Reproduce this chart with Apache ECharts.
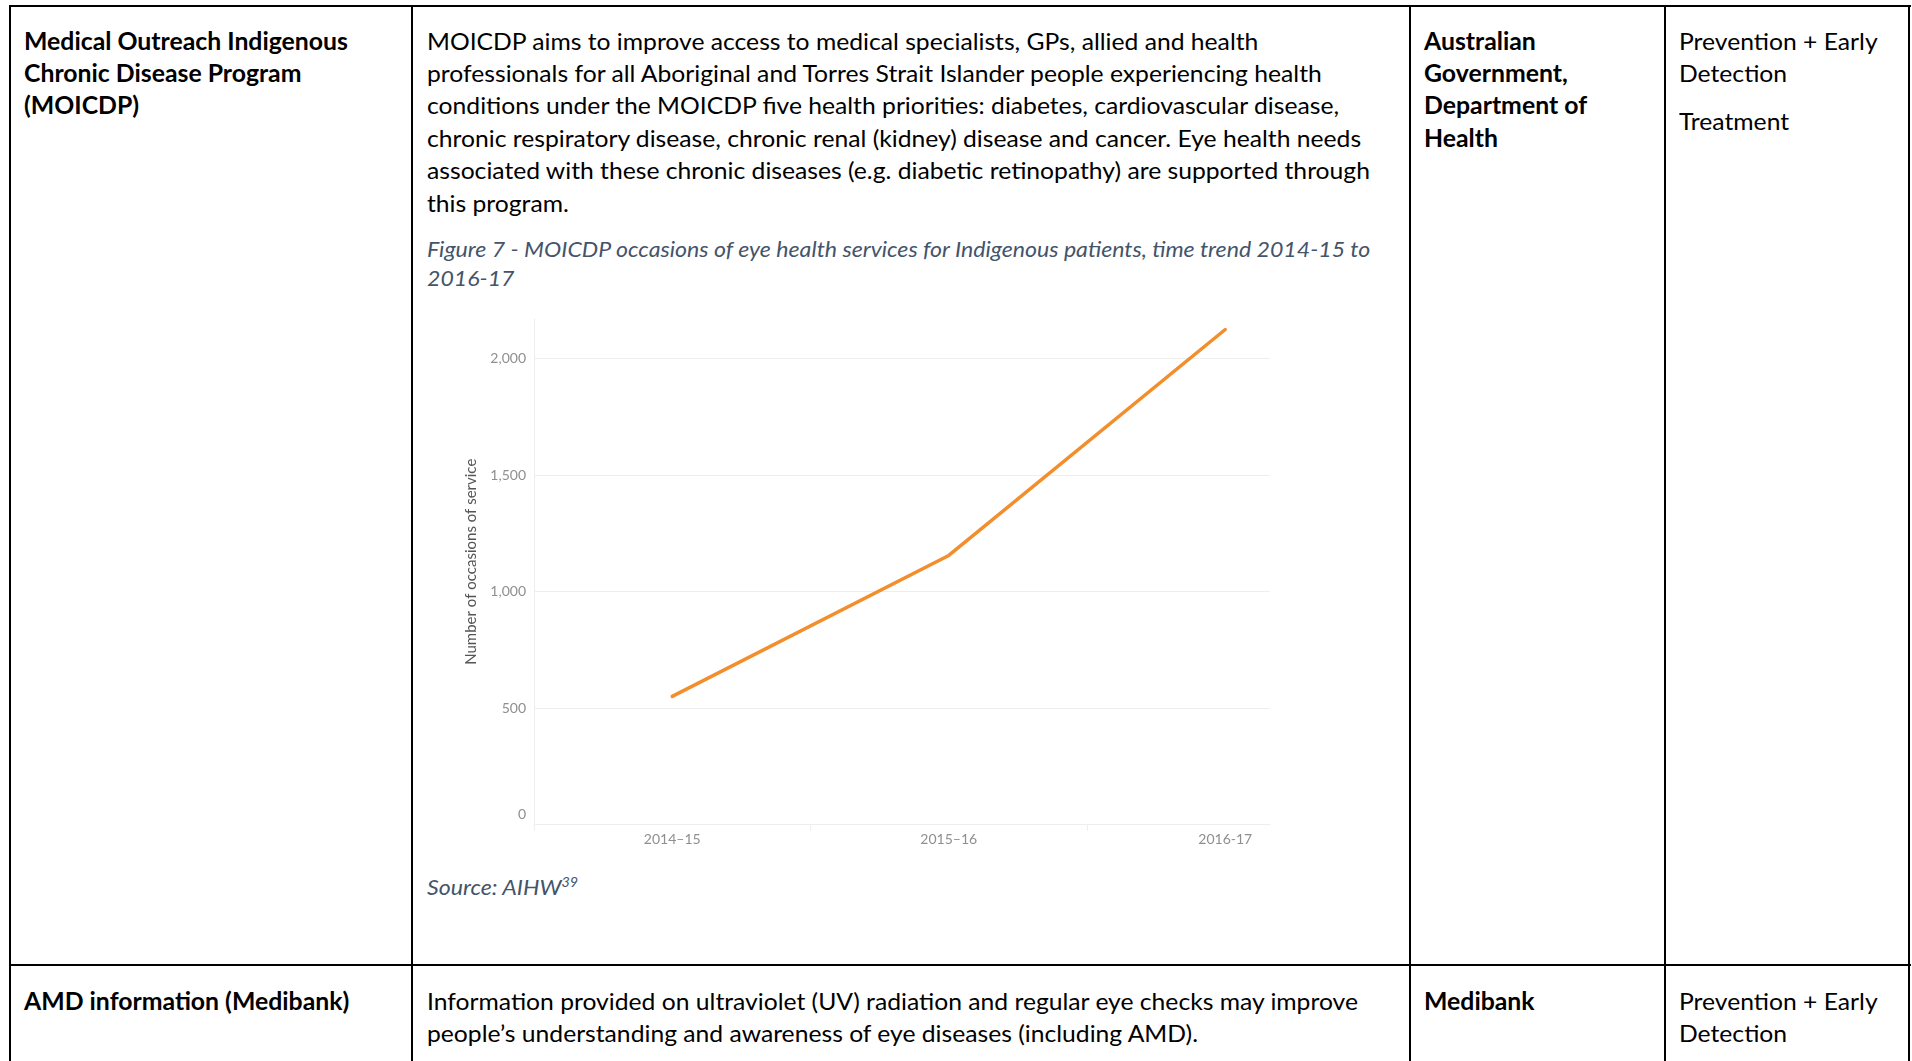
<!DOCTYPE html>
<html>
<head>
<meta charset="utf-8">
<title>MOICDP eye health services</title>
<script src="https://cdn.jsdelivr.net/npm/echarts@6/dist/echarts.min.js"></script>
<style>
  html, body { margin: 0; padding: 0; background: #fff; }
  body { width: 1912px; height: 1061px; overflow: hidden; position: relative; font-family: Lato, "Open Sans", sans-serif; color: #000; }
  .h, .v { position: absolute; background: #000; }
  .h { height: 2px; }
  .v { width: 2px; }
  .t { position: absolute; white-space: nowrap; transform-origin: 0 0; }
  .reg { font-size: 24px; line-height: 32.4px; }
  .bold { font-size: 24px; line-height: 32.4px; font-weight: bold; }
  .ital { font-size: 21px; line-height: 28.8px; font-style: italic; color: #44546a; }
  .ital sup { font-size: 13px; line-height: 0; }
  #chart { position: absolute; left: 0; top: 0; width: 1912px; height: 1061px; }
</style>
</head>
<body>
  <!-- table rules -->
  <div class="h" style="left:9px; top:5px; width:1902px;"></div>
  <div class="h" style="left:9px; top:964px; width:1902px;"></div>
  <div class="v" style="left:9px; top:5px; height:1056px;"></div>
  <div class="v" style="left:411px; top:5px; height:1056px;"></div>
  <div class="v" style="left:1409px; top:5px; height:1056px;"></div>
  <div class="v" style="left:1664px; top:5px; height:1056px;"></div>
  <div class="v" style="left:1908px; top:5px; height:1056px;"></div>

  <!-- row 1 -->
  <div class="t bold" style="left:24px; top:24.5px;">Medical Outreach Indigenous<br>Chronic Disease Program<br>(MOICDP)</div>
  <div class="t reg" style="left:427px; top:24.5px;">MOICDP aims to improve access to medical specialists, GPs, allied and health<br>professionals for all Aboriginal and Torres Strait Islander people experiencing health<br>conditions under the MOICDP five health priorities: diabetes, cardiovascular disease,<br>chronic respiratory disease, chronic renal (kidney) disease and cancer. Eye health needs<br>associated with these chronic diseases (e.g. diabetic retinopathy) are supported through<br>this program.</div>
  <div class="t ital" style="left:427px; top:235px;">Figure 7 - MOICDP occasions of eye health services for Indigenous patients, time trend 2014-15 to<br>2016-17</div>
  <div class="t ital" style="left:427px; top:872.5px;">Source: AIHW<sup>39</sup></div>
  <div class="t bold" style="left:1424px; top:24.5px;">Australian<br>Government,<br>Department of<br>Health</div>
  <div class="t reg" style="left:1679px; top:24.5px;">Prevention + Early<br>Detection</div>
  <div class="t reg" style="left:1679px; top:105.2px;">Treatment</div>

  <!-- row 2 -->
  <div class="t bold" style="left:24px; top:984.5px;">AMD information (Medibank)</div>
  <div class="t reg" style="left:427px; top:984.5px;">Information provided on ultraviolet (UV) radiation and regular eye checks may improve<br>people’s understanding and awareness of eye diseases (including AMD).</div>
  <div class="t bold" style="left:1424px; top:984.5px;">Medibank</div>
  <div class="t reg" style="left:1679px; top:984.5px;">Prevention + Early<br>Detection</div>

  <div id="chart"></div>

<script>
// data
var years = ['2014–15', '2015–16', '2016-17'];
var occasions = [550, 1155, 2125];
var yMin = 0;
var yMax = 2170;
var yStep = 500;

// squeeze Lato to the width of the Calibri text in the original
var ctx = document.createElement('canvas').getContext('2d');
function fit(sel, font, sample, target) {
  ctx.font = font;
  var k = target / ctx.measureText(sample).width;
  document.querySelectorAll(sel).forEach(function (el) {
    el.style.transform = 'scaleX(' + k + ')';
  });
}
fit('.reg', '24px Lato', 'MOICDP aims to improve access to medical specialists, GPs, allied and health', 832);
fit('.bold', 'bold 24px Lato', 'Medical Outreach Indigenous', 324);
fit('.ital', 'italic 21px Lato', 'Figure 7 - MOICDP occasions of eye health services for Indigenous patients, time trend 2014-15 to', 945);

var chart = echarts.init(document.getElementById('chart'), null, { renderer: 'canvas' });

var gridColor = '#eeeeee';
var labelColor = '#8f8f8f';

// tick colour that stops where the visible frame ends (x = 1270)
var tickColor = {
  type: 'linear', x: 0, y: 0, x2: 1912, y2: 0, global: true,
  colorStops: [
    { offset: 0, color: gridColor },
    { offset: 0.665, color: gridColor },
    { offset: 0.666, color: 'rgba(255,255,255,0)' },
    { offset: 1, color: 'rgba(255,255,255,0)' }
  ]
};

var option = {
  animation: false,
  textStyle: { fontFamily: 'Lato' },
  grid: [
    // visible frame: gridlines, y labels, axis lines
    { left: 534, right: 642, top: 319, bottom: 236.5 },
    // full three category bands, the right one cut off by the frame
    { left: 534, right: 548.5, top: 319, bottom: 236.5 }
  ],
  xAxis: [
    {
      gridIndex: 0,
      type: 'value',
      min: 0,
      max: 1,
      axisLine: { show: true, lineStyle: { color: gridColor, width: 1 } },
      axisTick: { show: false },
      axisLabel: { show: false },
      splitLine: { show: false }
    },
    {
      gridIndex: 1,
      type: 'category',
      boundaryGap: true,
      data: years,
      axisLine: { show: false },
      axisTick: { show: true, length: 6, lineStyle: { color: tickColor } },
      axisLabel: { color: labelColor, fontSize: 14, margin: 8 },
      splitLine: { show: false }
    }
  ],
  yAxis: [
    {
      gridIndex: 0,
      type: 'value',
      min: yMin,
      max: yMax,
      interval: yStep,
      name: 'Number of occasions of service',
      nameLocation: 'middle',
      nameGap: 55,
      nameTextStyle: { color: '#555', fontSize: 15, padding: [0, 0, 0, 20] },
      axisLine: { show: true, lineStyle: { color: gridColor, width: 1 } },
      axisTick: { show: false },
      axisLabel: {
        color: labelColor,
        fontSize: 14,
        margin: 8,
        showMaxLabel: false,
        formatter: function (v) {
          if (v === 0) return '{z|0}';
          return v.toLocaleString('en-US');
        },
        rich: { z: { color: labelColor, fontSize: 14, padding: [0, 0, 20, 0] } }
      },
      splitLine: { show: true, showMaxLine: false, lineStyle: { color: gridColor, width: 1 } }
    },
    {
      gridIndex: 1,
      type: 'value',
      min: yMin,
      max: yMax,
      show: false,
      splitLine: { show: false }
    }
  ],
  series: [{
    type: 'line',
    xAxisIndex: 1,
    yAxisIndex: 1,
    data: occasions,
    symbol: 'none',
    smooth: false,
    lineStyle: { color: '#f28e2b', width: 3.5, cap: 'round' }
  }]
};
chart.setOption(option);
</script>
</body>
</html>
